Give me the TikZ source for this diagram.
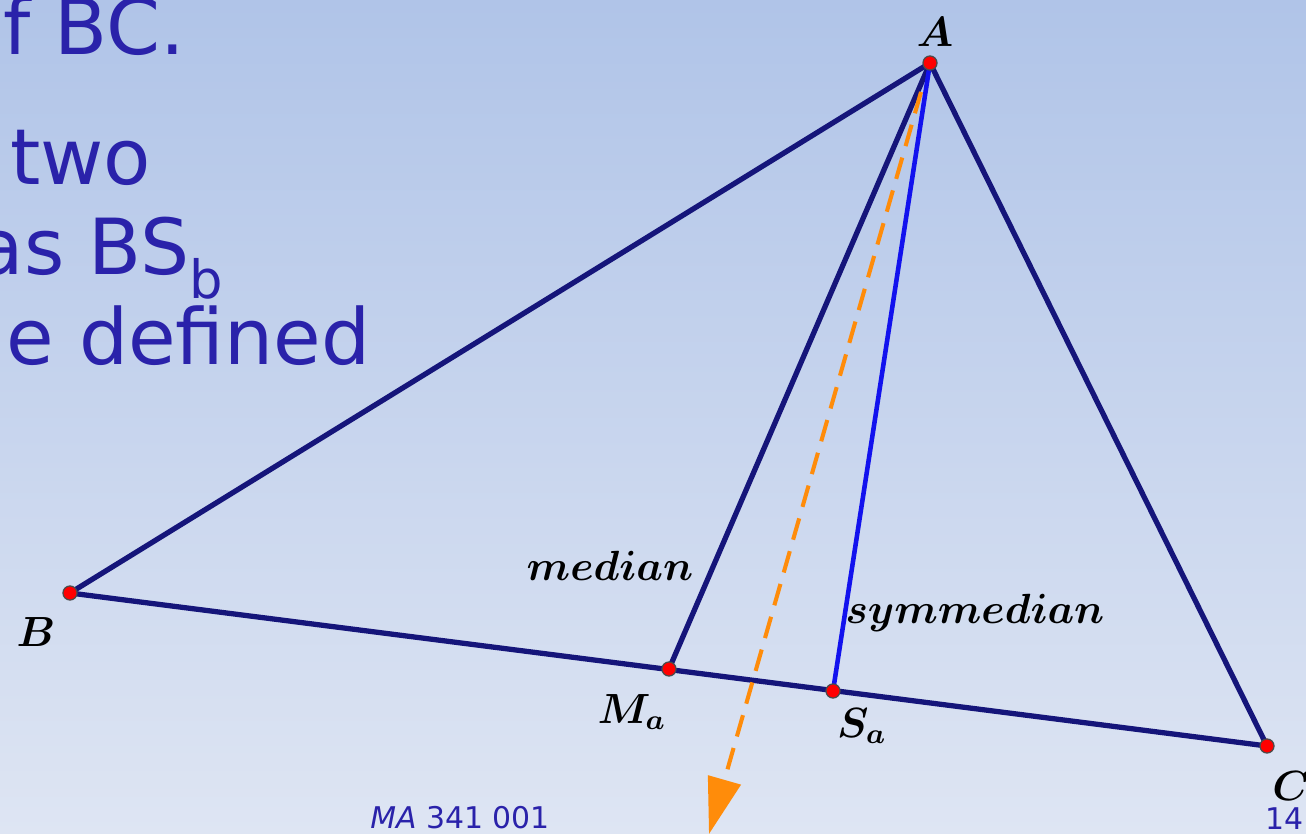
\documentclass[tikz,border=0pt]{standalone}
\usepackage{fontspec}
\usepackage{amsmath}
\newfontfamily\slidefont{DejaVu Sans}
\usetikzlibrary{arrows.meta}
\definecolor{bgtop}{HTML}{B0C4E8}
\definecolor{bgbot}{HTML}{DEE5F3}
\definecolor{slideblue}{HTML}{2A22AA}
\definecolor{navyline}{HTML}{15157A}
\definecolor{symblue}{HTML}{1212EE}
\definecolor{arroworange}{HTML}{FF8C0A}
\tikzset{
  side/.style={draw=navyline, line width=1.5pt},
  symline/.style={draw=symblue, line width=1.3pt},
  pt/.style={circle, fill=red, draw=black!70, line width=0.35pt, inner sep=0pt, minimum size=4pt},
  mlabel/.style={font=\fontsize{11.8}{14}\selectfont},
  slidetext/.style={font=\slidefont\fontsize{22}{26}\selectfont, text=slideblue, inner sep=0pt},
  foot/.style={font=\slidefont\fontsize{8.5}{10}\selectfont, text=slideblue, inner sep=0pt},
}
\begin{document}
\begin{tikzpicture}[x=0.01cm, y=-0.01cm]
\useasboundingbox (0,0) rectangle (1306,834);
\clip (0,0) rectangle (1306,834);
\shade[top color=bgtop, bottom color=bgbot] (0,0) rectangle (1306,834);

% slide text (cut at the left edge)
\node[slidetext, anchor=base east] (t1) at (186,55) {f BC.};
\node[slidetext, anchor=base east] (t2) at (152,185) {two};
\node[slidetext, anchor=base east] (t3) at (224,275) {as BS\raisebox{-0.3em}{\fontsize{15}{15}\selectfont b}};
\node[slidetext, anchor=base east] (t4) at (371,365) {e defined};

% points
\coordinate (A) at (930,63);
\coordinate (B) at (70,593);
\coordinate (C) at (1267,746);
\coordinate (Ma) at (669,669);
\coordinate (Sa) at (833,691);
\coordinate (ostart) at (921,92);
\coordinate (oend) at (709,834);

% triangle and median
\draw[side] (A) -- (B);
\draw[side] (A) -- (C);
\draw[side] (B) -- (C);
\draw[side] (A) -- (Ma);
% orange direction arrow
\draw[draw=arroworange, line width=1.15pt, dash pattern=on 6.3pt off 3.4pt,
  -{Triangle[length=16pt, width=9.5pt]}] (ostart) -- (oend);
% symmedian
\draw[symline] (A) -- (Sa);

\node[pt] (pA) at (A) {};
\node[pt] (pB) at (B) {};
\node[pt] (pC) at (C) {};
\node[pt] (pMa) at (Ma) {};
\node[pt] (pSa) at (Sa) {};

% labels
\node[mlabel] (lA) at (935,32) {$\boldsymbol{A}$};
\node[mlabel] (lB) at (36,632) {$\boldsymbol{B}$};
\node[mlabel, inner sep=0pt] (lC) at (1291,786) {$\boldsymbol{C}$};
\node[mlabel] (lMa) at (632,712) {$\boldsymbol{M_a}$};
\node[mlabel] (lSa) at (862,726) {$\boldsymbol{S_a}$};
\node[mlabel] (lmed) at (610,566) {$\boldsymbol{median}$};
\node[mlabel] (lsym) at (975,613) {$\boldsymbol{symmedian}$};

% footer
\node[foot, anchor=base] (f1) at (460,828) {\textit{MA} 341 001};
\node[foot, anchor=base east] (f2) at (1304,829) {14};
\end{tikzpicture}
\end{document}
